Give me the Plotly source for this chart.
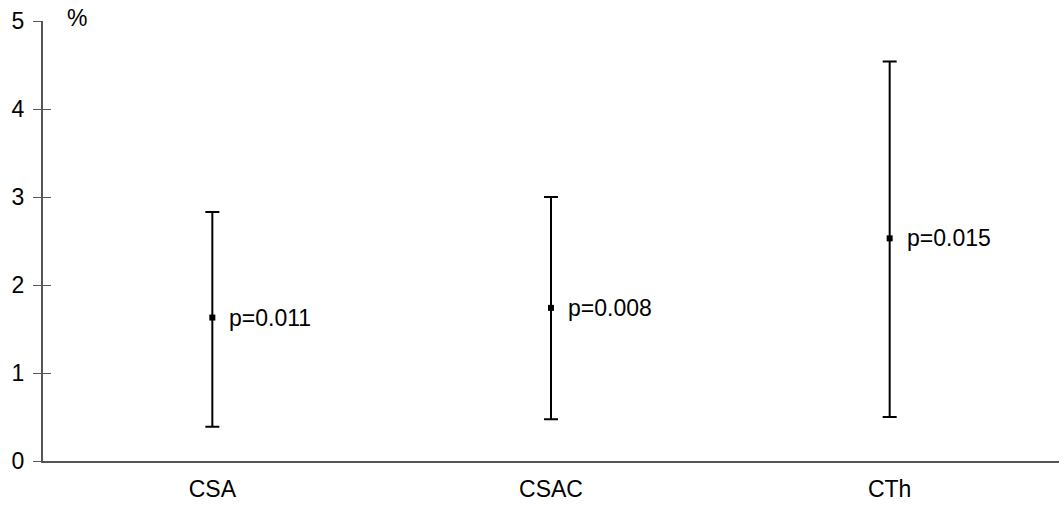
import plotly.graph_objects as go

categories = ["CSA", "CSAC", "CTh"]
means = [1.63, 1.74, 2.53]
upper = [2.83, 3.00, 4.54]
lower = [0.39, 0.475, 0.50]
p_labels = ["p=0.011", "p=0.008", "p=0.015"]
y_ticks = [0, 1, 2, 3, 4, 5]

FONT = "Liberation Sans, Arial, sans-serif"
FS = 23
xpos = list(range(len(categories)))

fig = go.Figure()
fig.add_trace(go.Scatter(
    x=xpos, y=means, mode="markers",
    marker=dict(symbol="square", size=6, color="black"),
    error_y=dict(type="data", symmetric=False,
                 array=[u - m for u, m in zip(upper, means)],
                 arrayminus=[m - l for m, l in zip(means, lower)],
                 color="black", thickness=2, width=7),
    showlegend=False, hoverinfo="skip",
))
# invisible trace for the overlaid axis (inside tick marks)
fig.add_trace(go.Scatter(x=[0], y=[0], yaxis="y2", mode="markers",
                         marker=dict(opacity=0), showlegend=False, hoverinfo="skip"))

for xi, m, lab in zip(xpos, means, p_labels):
    fig.add_annotation(x=xi, y=m, text=lab, showarrow=False, xanchor="left",
                       yanchor="middle", xshift=15,
                       font=dict(family=FONT, size=FS, color="black"))

fig.add_annotation(xref="paper", yref="y", x=0.022, y=5, text="%", showarrow=False,
                   xanchor="left", yanchor="middle", yshift=3,
                   font=dict(family=FONT, size=FS, color="black"))

fig.update_layout(
    width=1061, height=508,
    margin=dict(l=43, r=2, t=21, b=47),
    plot_bgcolor="white", paper_bgcolor="white",
    font=dict(family=FONT, size=FS, color="black"),
    xaxis=dict(range=[-0.5, len(categories) - 0.5], tickvals=xpos, ticktext=categories,
               showgrid=False, zeroline=False, showline=True, linecolor="#555555",
               linewidth=2, ticks="outside", ticklen=6, tickcolor="rgba(0,0,0,0)",
               tickfont=dict(family=FONT, size=FS, color="black")),
    yaxis=dict(range=[0, 5], tickvals=y_ticks, showgrid=False, zeroline=False,
               showline=True, linecolor="#555555", linewidth=2,
               ticks="outside", ticklen=8, tickcolor="#555555", tickwidth=1,
               ticklabelstandoff=4,
               tickfont=dict(family=FONT, size=FS, color="black")),
    yaxis2=dict(range=[0, 5], tickvals=y_ticks, overlaying="y", side="left",
                showgrid=False, zeroline=False, showline=False, showticklabels=False,
                ticks="inside", ticklen=8, tickcolor="#555555", tickwidth=1),
)

fig.write_html("out.html")
